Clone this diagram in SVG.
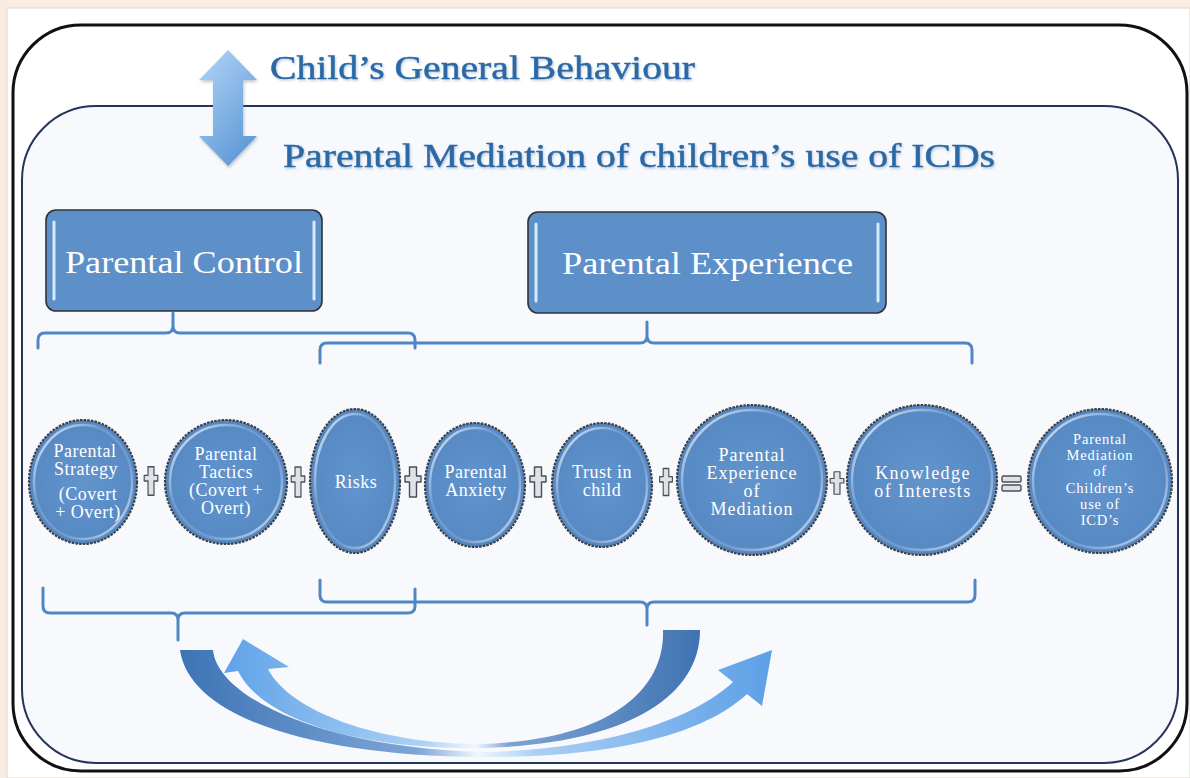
<svg xmlns="http://www.w3.org/2000/svg" width="1190" height="778" viewBox="0 0 1190 778">
  <style>
    .title { font-family: "Liberation Serif", "Times New Roman", serif; fill: #2b69a6; stroke: #2b69a6; stroke-width: 0.45; filter: url(#soft); }
    .boxlabel { font-family: "Liberation Serif", "Times New Roman", serif; fill: #ffffff; font-size: 32px; }
    .bubble-text { font-family: "Liberation Serif", "Times New Roman", serif; fill: #ffffff; font-size: 18px; letter-spacing: 0.5px; text-anchor: middle; }
    .bubble-text.wide { letter-spacing: 1px; }
    .bubble-text.wider { letter-spacing: 1.4px; }
    .bubble-text.small { font-size: 14.5px; letter-spacing: 0.8px; }
    .box { fill: #5d8fc8; stroke: #2f3337; stroke-width: 1.6; }
    .glint { stroke: #d3ecfb; stroke-width: 3; stroke-linecap: round; }
    .bubble { fill: url(#bubbleFill); stroke: #3d4045; stroke-width: 2.2; stroke-dasharray: 2.5 1.2; }
    .bubble-ring { fill: none; stroke: url(#ringFill); stroke-width: 2.5; }
    .op { fill: #dde2e8; stroke: #4b4d52; stroke-width: 1.4; stroke-linejoin: round; }
    .brace { fill: none; stroke: #4f87c6; stroke-width: 3; stroke-linejoin: round; stroke-linecap: round; }
  </style>
  <defs>
    <filter id="soft" x="-5%" y="-20%" width="110%" height="150%">
      <feDropShadow dx="1" dy="1.5" stdDeviation="1" flood-color="#6f8fb6" flood-opacity="0.45"/>
    </filter>
    <filter id="shade" x="-20%" y="-10%" width="140%" height="120%">
      <feDropShadow dx="1" dy="2" stdDeviation="1.5" flood-color="#7f8fa3" flood-opacity="0.5"/>
    </filter>
    <radialGradient id="bubbleFill" cx="0.5" cy="0.5" r="0.55">
      <stop offset="0" stop-color="#6294cc"/>
      <stop offset="0.85" stop-color="#5789c4"/>
      <stop offset="1" stop-color="#4e80bb"/>
    </radialGradient>
    <linearGradient id="ringFill" x1="0" y1="0" x2="1" y2="1">
      <stop offset="0" stop-color="#ffffff" stop-opacity="0.9"/>
      <stop offset="0.35" stop-color="#ffffff" stop-opacity="0.15"/>
      <stop offset="0.65" stop-color="#ffffff" stop-opacity="0.15"/>
      <stop offset="1" stop-color="#ffffff" stop-opacity="0.75"/>
    </linearGradient>
    <linearGradient id="updown" x1="0.2" y1="0" x2="0.8" y2="1">
      <stop offset="0" stop-color="#acd1f4"/>
      <stop offset="1" stop-color="#5a95d5"/>
    </linearGradient>
    <linearGradient id="sweepOuter" gradientUnits="userSpaceOnUse" x1="180" y1="0" x2="775" y2="0">
      <stop offset="0" stop-color="#3d74b6"/>
      <stop offset="0.4" stop-color="#7ea6d6"/>
      <stop offset="0.5" stop-color="#f2f7fd"/>
      <stop offset="0.6" stop-color="#a9cff4"/>
      <stop offset="1" stop-color="#5c9fe6"/>
    </linearGradient>
    <linearGradient id="sweepInner" gradientUnits="userSpaceOnUse" x1="700" y1="0" x2="222" y2="0">
      <stop offset="0" stop-color="#3f73b2"/>
      <stop offset="0.4" stop-color="#7ea4d3"/>
      <stop offset="0.47" stop-color="#f2f7fd"/>
      <stop offset="0.58" stop-color="#acd1f5"/>
      <stop offset="1" stop-color="#5fa2e8"/>
    </linearGradient>
    <path id="plus" d="M -3.5 -15 H 3.5 V -6 H 8 V 0 H 3.5 V 15 H -3.5 V 0 H -8 V -6 H -3.5 Z"/>
  </defs>

  <!-- page -->
  <rect x="0" y="0" width="1190" height="778" fill="#f9ece2"/>
  <rect x="7" y="8" width="1183" height="770" fill="#ffffff" stroke="#e2d6cc" stroke-width="1"/>

  <!-- frames -->
  <g id="frame-behaviour">
    <rect x="13" y="25" width="1174" height="746" rx="68" ry="68" fill="#ffffff" stroke="#111111" stroke-width="3"/>
  </g>
  <g id="frame-mediation">
    <rect x="22" y="106" width="1156" height="657" rx="74" ry="74" fill="#f7f9fc" stroke="#26335a" stroke-width="2"/>
  </g>

  <!-- headings -->
  <g id="heading-behaviour">
    <text class="title" x="270" y="79" font-size="34" textLength="425" lengthAdjust="spacingAndGlyphs">Child’s General Behaviour</text>
  </g>
  <g id="heading-mediation">
    <text class="title" x="283" y="167" font-size="33" textLength="712" lengthAdjust="spacingAndGlyphs">Parental Mediation of children’s use of ICDs</text>
  </g>

  <!-- two-way link between the frames -->
  <g id="link-updown" filter="url(#shade)">
    <path d="M228 50 L257 80 L243 80 L243 136 L257 136 L228 166 L199 136 L213 136 L213 80 L199 80 Z" fill="url(#updown)"/>
  </g>

  <!-- braces and feedback sweeps -->
  <g id="connectors">
    <path class="brace" d="M38 348 V340 Q38 333 45 333 H166 Q173 333 173 326 V313 V326 Q173 333 180 333 H408 Q415 333 415 340 V348"/>
    <path class="brace" d="M320 363 V350 Q320 343 327 343 H640 Q647 343 647 336 V322 V336 Q647 343 654 343 H965 Q972 343 972 350 V363"/>
    <path class="brace" d="M43 588 V606 Q43 613 50 613 H171 Q178 613 178 620 V640 V620 Q178 613 185 613 H408 Q415 613 415 606 V589"/>
    <path class="brace" d="M320 580 V595 Q320 602 327 602 H640 Q647 602 647 609 V625 V609 Q647 602 654 602 H968 Q975 602 975 595 V580"/>

    <path d="M180 650 L213 650 C218 700 330 748 480 752 C600 750 690 722 733 682 L718 670 L772 650 L762 706 L747 694 C700 738 600 758 480 757 C320 756 190 720 180 650 Z" fill="url(#sweepOuter)"/>
    <path d="M663 630 L700 630 C700 700 620 745 480 748 C360 750 262 720 238 671 L224 673 L243 639 L289 667 L268 669 C290 712 380 744 480 744 C610 740 665 690 663 630 Z" fill="url(#sweepInner)"/>
  </g>

  <!-- category boxes -->
  <g id="box-control">
    <rect class="box" x="46" y="210" width="276" height="101" rx="10" ry="10"/>
    <line class="glint" x1="54" y1="222" x2="54" y2="299"/>
    <line class="glint" x1="314" y1="222" x2="314" y2="299"/>
    <text class="boxlabel" x="65" y="273" textLength="238" lengthAdjust="spacingAndGlyphs">Parental Control</text>
  </g>
  <g id="box-experience">
    <rect class="box" x="528" y="212" width="358" height="101" rx="10" ry="10"/>
    <line class="glint" x1="536" y1="224" x2="536" y2="301"/>
    <line class="glint" x1="878" y1="224" x2="878" y2="301"/>
    <text class="boxlabel" x="562" y="274" textLength="291" lengthAdjust="spacingAndGlyphs">Parental Experience</text>
  </g>

  <!-- factor bubbles -->
  <g id="bubble-strategy">
    <ellipse class="bubble" cx="83" cy="482" rx="54" ry="62"/>
    <ellipse class="bubble-ring" cx="83" cy="482" rx="49" ry="57"/>
    <text class="bubble-text" x="85" y="457">Parental</text>
    <text class="bubble-text" x="86" y="475">Strategy</text>
    <text class="bubble-text" x="88" y="500">(Covert</text>
    <text class="bubble-text" x="88" y="518">+ Overt)</text>
  </g>
  <g id="bubble-tactics">
    <ellipse class="bubble" cx="226" cy="482" rx="61" ry="62"/>
    <ellipse class="bubble-ring" cx="226" cy="482" rx="56" ry="57"/>
    <text class="bubble-text" x="226" y="460">Parental</text>
    <text class="bubble-text" x="226" y="478">Tactics</text>
    <text class="bubble-text" x="226" y="496">(Covert +</text>
    <text class="bubble-text" x="226" y="514">Overt)</text>
  </g>
  <g id="bubble-risks">
    <ellipse class="bubble" cx="355" cy="481" rx="45" ry="72"/>
    <ellipse class="bubble-ring" cx="355" cy="481" rx="40" ry="67"/>
    <text class="bubble-text" x="356" y="488">Risks</text>
  </g>
  <g id="bubble-anxiety">
    <ellipse class="bubble" cx="475" cy="485" rx="50" ry="62"/>
    <ellipse class="bubble-ring" cx="475" cy="485" rx="45" ry="57"/>
    <text class="bubble-text" x="476" y="478">Parental</text>
    <text class="bubble-text" x="476" y="496">Anxiety</text>
  </g>
  <g id="bubble-trust">
    <ellipse class="bubble" cx="602" cy="485" rx="50" ry="62"/>
    <ellipse class="bubble-ring" cx="602" cy="485" rx="45" ry="57"/>
    <text class="bubble-text" x="602" y="478">Trust in</text>
    <text class="bubble-text" x="602" y="496">child</text>
  </g>
  <g id="bubble-experience">
    <ellipse class="bubble" cx="752" cy="480" rx="75" ry="75"/>
    <ellipse class="bubble-ring" cx="752" cy="480" rx="70" ry="70"/>
    <text class="bubble-text wide" x="752" y="461">Parental</text>
    <text class="bubble-text wide" x="752" y="479">Experience</text>
    <text class="bubble-text wide" x="752" y="497">of</text>
    <text class="bubble-text wide" x="752" y="515">Mediation</text>
  </g>
  <g id="bubble-knowledge">
    <ellipse class="bubble" cx="922" cy="480" rx="75" ry="75"/>
    <ellipse class="bubble-ring" cx="922" cy="480" rx="70" ry="70"/>
    <text class="bubble-text wider" x="923" y="479">Knowledge</text>
    <text class="bubble-text wider" x="923" y="497">of Interests</text>
  </g>
  <g id="bubble-result">
    <ellipse class="bubble" cx="1100" cy="481" rx="72" ry="72"/>
    <ellipse class="bubble-ring" cx="1100" cy="481" rx="67" ry="67"/>
    <text class="bubble-text small" x="1100" y="444">Parental</text>
    <text class="bubble-text small" x="1100" y="460.2">Mediation</text>
    <text class="bubble-text small" x="1100" y="476.4">of</text>
    <text class="bubble-text small" x="1100" y="492.6">Children’s</text>
    <text class="bubble-text small" x="1100" y="508.8">use of</text>
    <text class="bubble-text small" x="1100" y="525">ICD’s</text>
  </g>

  <!-- operators between bubbles -->
  <g id="op-1"><use href="#plus" class="op" transform="translate(151 481) scale(0.85 0.95)"/></g>
  <g id="op-2"><use href="#plus" class="op" transform="translate(298 482) scale(0.85 1)"/></g>
  <g id="op-3"><use href="#plus" class="op" transform="translate(413 482) scale(1 1)"/></g>
  <g id="op-4"><use href="#plus" class="op" transform="translate(538 482) scale(1 1)"/></g>
  <g id="op-5"><use href="#plus" class="op" transform="translate(666 482) scale(0.8 0.9)"/></g>
  <g id="op-6"><use href="#plus" class="op" transform="translate(837 483) scale(0.85 0.75)"/></g>
  <g id="op-equals">
    <rect class="op" x="1002" y="476" width="19" height="6" rx="1.5"/>
    <rect class="op" x="1002" y="485" width="19" height="6" rx="1.5"/>
  </g>
</svg>
